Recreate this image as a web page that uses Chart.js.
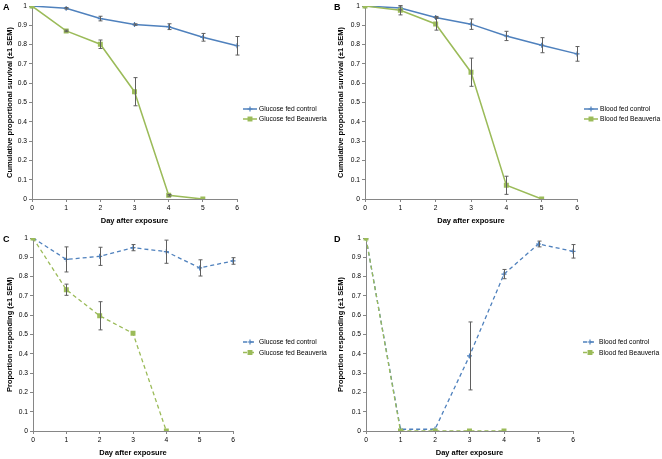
<!DOCTYPE html>
<html>
<head>
<meta charset="utf-8">
<script src="https://cdn.jsdelivr.net/npm/chart.js@4.4.1/dist/chart.umd.min.js"></script>
<style>
html,body{margin:0;padding:0;background:#fff;}
.panel{position:absolute;width:331px;height:230px;}
</style>
</head>
<body>
<div class="panel" style="left:0;top:0"><canvas id="cA" width="331" height="230"></canvas></div>
<div class="panel" style="left:331px;top:0"><canvas id="cB" width="331" height="230"></canvas></div>
<div class="panel" style="left:0;top:229px"><canvas id="cC" width="331" height="230"></canvas></div>
<div class="panel" style="left:331px;top:229px"><canvas id="cD" width="331" height="230"></canvas></div>
<script>
// ---- data ----
const days = ['0','1','2','3','4','5','6'];

const glucoseControlSurv    = [1, 0.988, 0.935, 0.904, 0.893, 0.838, 0.794];
const glucoseControlSurvErr = [0, 0.004, 0.012, 0.004, 0.015, 0.020, 0.048];
const glucoseBeauvSurv      = [1, 0.871, 0.802, 0.556, 0.019, 0];
const glucoseBeauvSurvErr   = [0, 0.004, 0.022, 0.073, 0.004, 0];

const bloodControlSurv      = [1, 0.990, 0.941, 0.906, 0.845, 0.797, 0.752];
const bloodControlSurvErr   = [0, 0.010, 0.005, 0.027, 0.024, 0.039, 0.038];
const bloodBeauvSurv        = [1, 0.978, 0.907, 0.657, 0.071, 0];
const bloodBeauvSurvErr     = [0, 0.024, 0.032, 0.073, 0.047, 0];

const glucoseControlResp    = [1, 0.889, 0.905, 0.950, 0.929, 0.845, 0.881];
const glucoseControlRespErr = [0, 0.065, 0.047, 0.016, 0.060, 0.042, 0.017];
const glucoseBeauvResp      = [1, 0.732, 0.597, 0.506, 0];
const glucoseBeauvRespErr   = [0, 0.029, 0.073, 0, 0];

const bloodControlResp      = [1, 0.009, 0.009, 0.389, 0.813, 0.969, 0.931];
const bloodControlRespErr   = [0, 0, 0, 0.176, 0.024, 0.015, 0.035];
const bloodBeauvResp        = [1, 0, 0, 0, 0];
const bloodBeauvRespErr     = [0, 0, 0, 0, 0];

const xTitle = 'Day after exposure';
const yTitleSurv = 'Cumulative proportional survival (±1 SEM)';
const yTitleResp = 'Proportion responding (±1 SEM)';

// ---- style ----
const FONT = '"Liberation Sans", Arial, sans-serif';
const BLUE = '#4F81BD';
const GREEN = '#9BBB59';
const AXIS = '#868686';

const errorBarPlugin = {
  id: 'errorBars',
  afterDatasetsDraw(chart) {
    const ctx = chart.ctx;
    const ys = chart.scales.y;
    ctx.save();
    ctx.strokeStyle = '#5f5f5f';
    ctx.lineWidth = 1;
    chart.data.datasets.forEach((ds, di) => {
      if (!ds.errors) return;
      const meta = chart.getDatasetMeta(di);
      meta.data.forEach((pt, i) => {
        const e = ds.errors[i];
        if (!e) return;
        const v = ds.data[i];
        const x = Math.round(pt.x) + 0.5;
        const y1 = ys.getPixelForValue(v + e);
        const y2 = ys.getPixelForValue(v - e);
        ctx.beginPath();
        ctx.moveTo(x, y1); ctx.lineTo(x, y2);
        ctx.moveTo(x - 2, y1); ctx.lineTo(x + 2, y1);
        ctx.moveTo(x - 2, y2); ctx.lineTo(x + 2, y2);
        ctx.stroke();
      });
    });
    ctx.restore();
  }
};

const decorPlugin = {
  id: 'decor',
  afterDraw(chart, args, opts) {
    const ctx = chart.ctx;
    ctx.save();
    // panel letter
    ctx.fillStyle = '#000';
    ctx.font = 'bold 9px ' + FONT;
    ctx.textBaseline = 'alphabetic';
    ctx.textAlign = 'left';
    ctx.fillText(opts.letter, 3, opts.letterY);
    // legend
    const x0 = chart.chartArea.right + opts.legendDx;
    chart.data.datasets.forEach((ds, i) => {
      const y = opts.legendY + i * opts.legendGap;
      ctx.strokeStyle = ds.borderColor;
      ctx.lineWidth = ds.borderWidth;
      ctx.setLineDash(ds.borderDash || []);
      ctx.beginPath();
      ctx.moveTo(x0, y); ctx.lineTo(x0 + 14, y);
      ctx.stroke();
      ctx.setLineDash([]);
      ctx.fillStyle = ds.pointBackgroundColor;
      ctx.strokeStyle = ds.pointBorderColor;
      ctx.lineWidth = ds.pointBorderWidth;
      Chart.helpers.drawPoint(ctx, {pointStyle: ds.pointStyle, radius: ds.pointRadius, rotation: 0, borderWidth: ds.pointBorderWidth}, x0 + 7, y);
      ctx.fillStyle = '#000';
      ctx.font = '6.7px ' + FONT;
      ctx.textBaseline = 'middle';
      ctx.fillText(ds.label, x0 + 16, y + 0.5);
    });
    ctx.restore();
  }
};

function makeDataset(label, data, errors, color, kind, dashed, order) {
  return {
    label, data, errors, order,
    borderColor: color,
    borderWidth: dashed ? 1.3 : 1.5,
    borderDash: dashed ? [4, 3] : [],
    pointStyle: kind === 'square' ? 'rect' : 'cross',
    pointRadius: kind === 'square' ? 3.5 : 2.5,
    pointBorderWidth: kind === 'square' ? 0 : 1.2,
    pointBackgroundColor: color,
    pointBorderColor: color,
    pointHoverRadius: 0,
    tension: 0,
    fill: false
  };
}

function makeChart(id, cfg) {
  const W = 331, H = 230;
  const padL = 3;
  return new Chart(document.getElementById(id), {
    type: 'line',
    data: {
      labels: days,
      datasets: [
        makeDataset(cfg.names[0], cfg.ctrl, cfg.ctrlErr, BLUE, 'cross', cfg.dashed, 1),
        makeDataset(cfg.names[1], cfg.beau, cfg.beauErr, GREEN, 'square', cfg.dashed, 0)
      ]
    },
    options: {
      responsive: false,
      animation: false,
      events: [],
      layout: { padding: { left: padL, right: W - cfg.area.right, top: cfg.area.top, bottom: cfg.padB } },
      plugins: {
        legend: { display: false },
        tooltip: { enabled: false },
        decor: { letter: cfg.letter, letterY: cfg.letterY, legendDx: cfg.legendDx, legendY: cfg.legendY, legendGap: cfg.legendGap }
      },
      scales: {
        x: {
          type: 'category',
          offset: false,
          border: { display: true, color: AXIS, width: 1 },
          grid: { display: true, drawOnChartArea: false, drawTicks: true, tickLength: 3, color: AXIS },
          ticks: { color: '#000', font: { family: FONT, size: 6.7 }, padding: 2, maxRotation: 0, autoSkip: false },
          title: { display: true, text: xTitle, color: '#000', font: { family: FONT, size: 7.5, weight: 'bold' }, padding: { top: 3, bottom: 0 } },
          afterFit(s) { s.height = H - cfg.area.bottom - cfg.padB; }
        },
        y: {
          min: 0, max: 1,
          border: { display: true, color: AXIS, width: 1 },
          grid: { display: true, drawOnChartArea: false, drawTicks: true, tickLength: 3, color: AXIS },
          ticks: { stepSize: 0.1, color: '#000', font: { family: FONT, size: 6.7 }, padding: 2,
                   callback: v => String(Math.round(v * 10) / 10) },
          title: { display: true, text: cfg.yTitle, color: '#000', font: { family: FONT, size: 7.5, weight: 'bold' }, padding: { top: 2, bottom: 0 } },
          afterFit(s) { s.width = cfg.area.left - padL; }
        }
      }
    },
    plugins: [errorBarPlugin, decorPlugin]
  });
}

makeChart('cA', {
  letter: 'A', letterY: 10, yTitle: yTitleSurv, dashed: false,
  names: ['Glucose fed control', 'Glucose fed Beauveria'],
  ctrl: glucoseControlSurv, ctrlErr: glucoseControlSurvErr,
  beau: glucoseBeauvSurv, beauErr: glucoseBeauvSurvErr,
  area: { left: 32, right: 237, top: 5, bottom: 199 }, padB: 5,
  legendDx: 6, legendY: 109, legendGap: 10
});
makeChart('cB', {
  letter: 'B', letterY: 10, yTitle: yTitleSurv, dashed: false,
  names: ['Blood fed control', 'Blood fed Beauveria'],
  ctrl: bloodControlSurv, ctrlErr: bloodControlSurvErr,
  beau: bloodBeauvSurv, beauErr: bloodBeauvSurvErr,
  area: { left: 34, right: 246, top: 5, bottom: 199 }, padB: 5,
  legendDx: 7, legendY: 109, legendGap: 10
});
makeChart('cC', {
  letter: 'C', letterY: 13, yTitle: yTitleResp, dashed: true,
  names: ['Glucose fed control', 'Glucose fed Beauveria'],
  ctrl: glucoseControlResp, ctrlErr: glucoseControlRespErr,
  beau: glucoseBeauvResp, beauErr: glucoseBeauvRespErr,
  area: { left: 33, right: 233, top: 9, bottom: 202 }, padB: 2,
  legendDx: 10, legendY: 113, legendGap: 10.5
});
makeChart('cD', {
  letter: 'D', letterY: 13, yTitle: yTitleResp, dashed: true,
  names: ['Blood fed control', 'Blood fed Beauveria'],
  ctrl: bloodControlResp, ctrlErr: bloodControlRespErr,
  beau: bloodBeauvResp, beauErr: bloodBeauvRespErr,
  area: { left: 35, right: 242, top: 9, bottom: 202 }, padB: 2,
  legendDx: 10, legendY: 113, legendGap: 10.5
});
</script>
</body>
</html>
